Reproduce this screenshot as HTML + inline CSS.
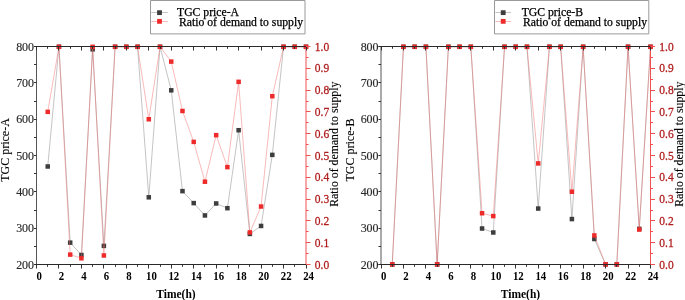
<!DOCTYPE html>
<html><head><meta charset="utf-8"><title>TGC price chart</title><style>
html,body{margin:0;padding:0;background:#fff;overflow:hidden}
svg{display:block;will-change:transform}
text{font-family:"Liberation Serif",serif}
.lt{font-size:12px;fill:#2a2a2a;stroke:#2a2a2a;stroke-width:0.15px;text-anchor:end}
.rt{font-size:11.5px;fill:#b01c1c;stroke:#b01c1c;stroke-width:0.25px;text-anchor:start}
.bt{font-size:12px;font-weight:bold;fill:#000;text-anchor:middle}
.ti{font-size:11.5px;fill:#000;stroke:#000;stroke-width:0.12px;text-anchor:middle}
.xt{font-size:11.5px;font-weight:bold;fill:#000;text-anchor:middle}
.lg{font-size:11.7px;fill:#000;stroke:#000;stroke-width:0.25px}
</style></head>
<body><svg width="685" height="300" viewBox="0 0 685 300">
<rect x="0" y="0" width="685" height="300" fill="#fff"/>
<polyline points="47.73,166.48 58.96,46.8 70.19,242.64 81.42,254.97 92.65,49.34 103.88,245.9 115.1,46.8 126.33,46.8 137.56,46.8 148.79,197.31 160.02,46.8 171.25,90.32 182.48,191.14 193.71,203.11 204.94,215.44 216.17,203.47 227.4,208.19 238.62,130.21 249.85,233.94 261.08,225.96 272.31,154.87 283.54,46.8 294.77,46.8 306,46.8" fill="none" stroke="#7a7a7a" stroke-width="0.45"/>
<g fill="#3d3d3d"><rect x="45.48" y="164.23" width="4.5" height="4.5"/><rect x="56.71" y="44.55" width="4.5" height="4.5"/><rect x="67.94" y="240.39" width="4.5" height="4.5"/><rect x="79.17" y="252.72" width="4.5" height="4.5"/><rect x="90.4" y="47.09" width="4.5" height="4.5"/><rect x="101.62" y="243.65" width="4.5" height="4.5"/><rect x="112.85" y="44.55" width="4.5" height="4.5"/><rect x="124.08" y="44.55" width="4.5" height="4.5"/><rect x="135.31" y="44.55" width="4.5" height="4.5"/><rect x="146.54" y="195.06" width="4.5" height="4.5"/><rect x="157.77" y="44.55" width="4.5" height="4.5"/><rect x="169" y="88.07" width="4.5" height="4.5"/><rect x="180.23" y="188.89" width="4.5" height="4.5"/><rect x="191.46" y="200.86" width="4.5" height="4.5"/><rect x="202.69" y="213.19" width="4.5" height="4.5"/><rect x="213.92" y="201.22" width="4.5" height="4.5"/><rect x="225.15" y="205.94" width="4.5" height="4.5"/><rect x="236.38" y="127.96" width="4.5" height="4.5"/><rect x="247.6" y="231.69" width="4.5" height="4.5"/><rect x="258.83" y="223.71" width="4.5" height="4.5"/><rect x="270.06" y="152.62" width="4.5" height="4.5"/><rect x="281.29" y="44.55" width="4.5" height="4.5"/><rect x="292.52" y="44.55" width="4.5" height="4.5"/><rect x="303.75" y="44.55" width="4.5" height="4.5"/></g>
<polyline points="47.73,111.86 58.96,46.8 70.19,254.61 81.42,258.31 92.65,46.8 103.88,255.48 115.1,46.8 126.33,46.8 137.56,46.8 148.79,119.26 160.02,46.8 171.25,61.6 182.48,110.99 193.71,141.89 204.94,181.71 216.17,135.15 227.4,167.13 238.62,81.83 249.85,232.41 261.08,206.52 272.31,96.2 283.54,46.8 294.77,46.8 306,46.8" fill="none" stroke="#f26464" stroke-width="0.45"/>
<g fill="#ee2b2b"><rect x="45.48" y="109.61" width="4.5" height="4.5"/><rect x="56.71" y="44.55" width="4.5" height="4.5"/><rect x="67.94" y="252.36" width="4.5" height="4.5"/><rect x="79.17" y="256.06" width="4.5" height="4.5"/><rect x="90.4" y="44.55" width="4.5" height="4.5"/><rect x="101.62" y="253.23" width="4.5" height="4.5"/><rect x="112.85" y="44.55" width="4.5" height="4.5"/><rect x="124.08" y="44.55" width="4.5" height="4.5"/><rect x="135.31" y="44.55" width="4.5" height="4.5"/><rect x="146.54" y="117.01" width="4.5" height="4.5"/><rect x="157.77" y="44.55" width="4.5" height="4.5"/><rect x="169" y="59.35" width="4.5" height="4.5"/><rect x="180.23" y="108.74" width="4.5" height="4.5"/><rect x="191.46" y="139.64" width="4.5" height="4.5"/><rect x="202.69" y="179.46" width="4.5" height="4.5"/><rect x="213.92" y="132.9" width="4.5" height="4.5"/><rect x="225.15" y="164.88" width="4.5" height="4.5"/><rect x="236.38" y="79.58" width="4.5" height="4.5"/><rect x="247.6" y="230.16" width="4.5" height="4.5"/><rect x="258.83" y="204.27" width="4.5" height="4.5"/><rect x="270.06" y="93.95" width="4.5" height="4.5"/><rect x="281.29" y="44.55" width="4.5" height="4.5"/><rect x="292.52" y="44.55" width="4.5" height="4.5"/><rect x="303.75" y="44.55" width="4.5" height="4.5"/></g>
<line x1="36.5" y1="46.5" x2="36.5" y2="264.5" stroke="#555" stroke-width="1"/>
<line x1="306.0" y1="46.0" x2="306.0" y2="265.0" stroke="#f05050" stroke-width="1"/>
<path d="M36.5 264.5v4M36.5 46.5v4M47.5 264.5v2.3M47.5 46.5v2.3M58.5 264.5v4M58.5 46.5v4M70.5 264.5v2.3M70.5 46.5v2.3M81.5 264.5v4M81.5 46.5v4M92.5 264.5v2.3M92.5 46.5v2.3M103.5 264.5v4M103.5 46.5v4M115.5 264.5v2.3M115.5 46.5v2.3M126.5 264.5v4M126.5 46.5v4M137.5 264.5v2.3M137.5 46.5v2.3M148.5 264.5v4M148.5 46.5v4M160.5 264.5v2.3M160.5 46.5v2.3M171.5 264.5v4M171.5 46.5v4M182.5 264.5v2.3M182.5 46.5v2.3M193.5 264.5v4M193.5 46.5v4M204.5 264.5v2.3M204.5 46.5v2.3M216.5 264.5v4M216.5 46.5v4M227.5 264.5v2.3M227.5 46.5v2.3M238.5 264.5v4M238.5 46.5v4M249.5 264.5v2.3M249.5 46.5v2.3M261.5 264.5v4M261.5 46.5v4M272.5 264.5v2.3M272.5 46.5v2.3M283.5 264.5v4M283.5 46.5v4M294.5 264.5v2.3M294.5 46.5v2.3M306.5 264.5v4M306.5 46.5v4M36.5 264.5h-2.5M36.5 246.5h-2.5M36.5 228.5h-2.5M36.5 210.5h-2.5M36.5 191.5h-2.5M36.5 173.5h-2.5M36.5 155.5h-2.5M36.5 137.5h-2.5M36.5 119.5h-2.5M36.5 101.5h-2.5M36.5 82.5h-2.5M36.5 64.5h-2.5M36.5 46.5h-2.5" stroke="#333" stroke-width="1" fill="none"/>
<line x1="34.0" y1="46.5" x2="306.0" y2="46.5" stroke="#2a2a2a" stroke-width="1"/>
<line x1="34.0" y1="264.5" x2="306.0" y2="264.5" stroke="#2a2a2a" stroke-width="1"/>
<path d="M306.0 264.5h4.5M306.0 253.5h2.5M306.0 242.5h4.5M306.0 231.5h2.5M306.0 220.5h4.5M306.0 210.5h2.5M306.0 199.5h4.5M306.0 188.5h2.5M306.0 177.5h4.5M306.0 166.5h2.5M306.0 155.5h4.5M306.0 144.5h2.5M306.0 133.5h4.5M306.0 122.5h2.5M306.0 111.5h4.5M306.0 101.5h2.5M306.0 90.5h4.5M306.0 79.5h2.5M306.0 68.5h4.5M306.0 57.5h2.5M306.0 46.5h4.5" stroke="#f05050" stroke-width="1" fill="none"/>
<text transform="translate(34.1,268.6) scale(1,1.07)" class="lt">200</text>
<text transform="translate(34.1,232.27) scale(1,1.07)" class="lt">300</text>
<text transform="translate(34.1,195.93) scale(1,1.07)" class="lt">400</text>
<text transform="translate(34.1,159.6) scale(1,1.07)" class="lt">500</text>
<text transform="translate(34.1,123.27) scale(1,1.07)" class="lt">600</text>
<text transform="translate(34.1,86.93) scale(1,1.07)" class="lt">700</text>
<text transform="translate(34.1,50.6) scale(1,1.07)" class="lt">800</text>
<text transform="translate(314.8,268.5) scale(1,1.15)" class="rt">0.0</text>
<text transform="translate(314.8,246.7) scale(1,1.15)" class="rt">0.1</text>
<text transform="translate(314.8,224.9) scale(1,1.15)" class="rt">0.2</text>
<text transform="translate(314.8,203.1) scale(1,1.15)" class="rt">0.3</text>
<text transform="translate(314.8,181.3) scale(1,1.15)" class="rt">0.4</text>
<text transform="translate(314.8,159.5) scale(1,1.15)" class="rt">0.5</text>
<text transform="translate(314.8,137.7) scale(1,1.15)" class="rt">0.6</text>
<text transform="translate(314.8,115.9) scale(1,1.15)" class="rt">0.7</text>
<text transform="translate(314.8,94.1) scale(1,1.15)" class="rt">0.8</text>
<text transform="translate(314.8,72.3) scale(1,1.15)" class="rt">0.9</text>
<text transform="translate(314.8,50.5) scale(1,1.15)" class="rt">1.0</text>
<text transform="translate(39.1,279.9) scale(0.9,1)" class="bt">0</text>
<text transform="translate(61.56,279.9) scale(0.9,1)" class="bt">2</text>
<text transform="translate(84.02,279.9) scale(0.9,1)" class="bt">4</text>
<text transform="translate(106.47,279.9) scale(0.9,1)" class="bt">6</text>
<text transform="translate(128.93,279.9) scale(0.9,1)" class="bt">8</text>
<text transform="translate(151.39,279.9) scale(0.9,1)" class="bt">10</text>
<text transform="translate(173.85,279.9) scale(0.9,1)" class="bt">12</text>
<text transform="translate(196.31,279.9) scale(0.9,1)" class="bt">14</text>
<text transform="translate(218.77,279.9) scale(0.9,1)" class="bt">16</text>
<text transform="translate(241.22,279.9) scale(0.9,1)" class="bt">18</text>
<text transform="translate(263.68,279.9) scale(0.9,1)" class="bt">20</text>
<text transform="translate(286.14,279.9) scale(0.9,1)" class="bt">22</text>
<text transform="translate(308.6,279.9) scale(0.9,1)" class="bt">24</text>
<text transform="translate(9,150) rotate(-90)" class="ti" style="font-size:12px">TGC price-A</text>
<text transform="translate(338.4,144.2) rotate(-90)" class="ti" style="font-size:11.8px">Ratio of demand to supply</text>
<text x="175.95" y="297.6" class="xt">Time(h)</text>
<path d="M150.5 0.5H305.0M150.5 0.5V33.9M150.5 33.9H305.0M305.0 0.5V33.9" fill="none" stroke="#999" stroke-width="1"/>
<line x1="151.3" y1="12.5" x2="167.7" y2="12.5" stroke="#7a7a7a" stroke-width="0.45"/>
<rect x="157.1" y="10.25" width="4.8" height="4.8" fill="#3d3d3d"/>
<line x1="151.3" y1="21.5" x2="167.7" y2="21.5" stroke="#f26464" stroke-width="0.45"/>
<rect x="157.1" y="18.95" width="4.8" height="4.8" fill="#ee2b2b"/>
<text x="177" y="16.4" class="lg">TGC price-A</text>
<text x="179" y="25.7" class="lg">Ratio of demand to supply</text>
<polyline points="392.23,264.4 403.46,46.8 414.69,46.8 425.92,46.8 437.15,264.4 448.38,46.8 459.6,46.8 470.83,46.8 482.06,228.5 493.29,232.49 504.52,46.8 515.75,46.8 526.98,46.8 538.21,208.55 549.44,46.8 560.67,46.8 571.9,219.07 583.12,46.8 594.35,239.01 605.58,264.4 616.81,264.4 628.04,46.8 639.27,228.86 650.5,46.8" fill="none" stroke="#7a7a7a" stroke-width="0.45"/>
<g fill="#3d3d3d"><rect x="389.98" y="262.15" width="4.5" height="4.5"/><rect x="401.21" y="44.55" width="4.5" height="4.5"/><rect x="412.44" y="44.55" width="4.5" height="4.5"/><rect x="423.67" y="44.55" width="4.5" height="4.5"/><rect x="434.9" y="262.15" width="4.5" height="4.5"/><rect x="446.12" y="44.55" width="4.5" height="4.5"/><rect x="457.35" y="44.55" width="4.5" height="4.5"/><rect x="468.58" y="44.55" width="4.5" height="4.5"/><rect x="479.81" y="226.25" width="4.5" height="4.5"/><rect x="491.04" y="230.24" width="4.5" height="4.5"/><rect x="502.27" y="44.55" width="4.5" height="4.5"/><rect x="513.5" y="44.55" width="4.5" height="4.5"/><rect x="524.73" y="44.55" width="4.5" height="4.5"/><rect x="535.96" y="206.3" width="4.5" height="4.5"/><rect x="547.19" y="44.55" width="4.5" height="4.5"/><rect x="558.42" y="44.55" width="4.5" height="4.5"/><rect x="569.65" y="216.82" width="4.5" height="4.5"/><rect x="580.88" y="44.55" width="4.5" height="4.5"/><rect x="592.1" y="236.76" width="4.5" height="4.5"/><rect x="603.33" y="262.15" width="4.5" height="4.5"/><rect x="614.56" y="262.15" width="4.5" height="4.5"/><rect x="625.79" y="44.55" width="4.5" height="4.5"/><rect x="637.02" y="226.61" width="4.5" height="4.5"/><rect x="648.25" y="44.55" width="4.5" height="4.5"/></g>
<polyline points="392.23,264.4 403.46,46.8 414.69,46.8 425.92,46.8 437.15,264.4 448.38,46.8 459.6,46.8 470.83,46.8 482.06,213.26 493.29,216.09 504.52,46.8 515.75,46.8 526.98,46.8 538.21,163.43 549.44,46.8 560.67,46.8 571.9,191.72 583.12,46.8 594.35,235.46 605.58,264.4 616.81,264.4 628.04,46.8 639.27,229.58 650.5,46.8" fill="none" stroke="#f26464" stroke-width="0.45"/>
<g fill="#ee2b2b"><rect x="389.98" y="262.15" width="4.5" height="4.5"/><rect x="401.21" y="44.55" width="4.5" height="4.5"/><rect x="412.44" y="44.55" width="4.5" height="4.5"/><rect x="423.67" y="44.55" width="4.5" height="4.5"/><rect x="434.9" y="262.15" width="4.5" height="4.5"/><rect x="446.12" y="44.55" width="4.5" height="4.5"/><rect x="457.35" y="44.55" width="4.5" height="4.5"/><rect x="468.58" y="44.55" width="4.5" height="4.5"/><rect x="479.81" y="211.01" width="4.5" height="4.5"/><rect x="491.04" y="213.84" width="4.5" height="4.5"/><rect x="502.27" y="44.55" width="4.5" height="4.5"/><rect x="513.5" y="44.55" width="4.5" height="4.5"/><rect x="524.73" y="44.55" width="4.5" height="4.5"/><rect x="535.96" y="161.18" width="4.5" height="4.5"/><rect x="547.19" y="44.55" width="4.5" height="4.5"/><rect x="558.42" y="44.55" width="4.5" height="4.5"/><rect x="569.65" y="189.47" width="4.5" height="4.5"/><rect x="580.88" y="44.55" width="4.5" height="4.5"/><rect x="592.1" y="233.21" width="4.5" height="4.5"/><rect x="603.33" y="262.15" width="4.5" height="4.5"/><rect x="614.56" y="262.15" width="4.5" height="4.5"/><rect x="625.79" y="44.55" width="4.5" height="4.5"/><rect x="637.02" y="227.33" width="4.5" height="4.5"/><rect x="648.25" y="44.55" width="4.5" height="4.5"/></g>
<line x1="381.0" y1="46.5" x2="381.0" y2="264.5" stroke="#555" stroke-width="1"/>
<line x1="650.5" y1="46.0" x2="650.5" y2="265.0" stroke="#f05050" stroke-width="1"/>
<path d="M381.5 264.5v4M381.5 46.5v4M392.5 264.5v2.3M392.5 46.5v2.3M403.5 264.5v4M403.5 46.5v4M414.5 264.5v2.3M414.5 46.5v2.3M425.5 264.5v4M425.5 46.5v4M437.5 264.5v2.3M437.5 46.5v2.3M448.5 264.5v4M448.5 46.5v4M459.5 264.5v2.3M459.5 46.5v2.3M470.5 264.5v4M470.5 46.5v4M482.5 264.5v2.3M482.5 46.5v2.3M493.5 264.5v4M493.5 46.5v4M504.5 264.5v2.3M504.5 46.5v2.3M515.5 264.5v4M515.5 46.5v4M526.5 264.5v2.3M526.5 46.5v2.3M538.5 264.5v4M538.5 46.5v4M549.5 264.5v2.3M549.5 46.5v2.3M560.5 264.5v4M560.5 46.5v4M571.5 264.5v2.3M571.5 46.5v2.3M583.5 264.5v4M583.5 46.5v4M594.5 264.5v2.3M594.5 46.5v2.3M605.5 264.5v4M605.5 46.5v4M616.5 264.5v2.3M616.5 46.5v2.3M628.5 264.5v4M628.5 46.5v4M639.5 264.5v2.3M639.5 46.5v2.3M650.5 264.5v4M650.5 46.5v4M381.0 264.5h-2.5M381.0 246.5h-2.5M381.0 228.5h-2.5M381.0 210.5h-2.5M381.0 191.5h-2.5M381.0 173.5h-2.5M381.0 155.5h-2.5M381.0 137.5h-2.5M381.0 119.5h-2.5M381.0 101.5h-2.5M381.0 82.5h-2.5M381.0 64.5h-2.5M381.0 46.5h-2.5" stroke="#333" stroke-width="1" fill="none"/>
<line x1="378.5" y1="46.5" x2="650.5" y2="46.5" stroke="#2a2a2a" stroke-width="1"/>
<line x1="378.5" y1="264.5" x2="650.5" y2="264.5" stroke="#2a2a2a" stroke-width="1"/>
<path d="M650.5 264.5h4.5M650.5 253.5h2.5M650.5 242.5h4.5M650.5 231.5h2.5M650.5 220.5h4.5M650.5 210.5h2.5M650.5 199.5h4.5M650.5 188.5h2.5M650.5 177.5h4.5M650.5 166.5h2.5M650.5 155.5h4.5M650.5 144.5h2.5M650.5 133.5h4.5M650.5 122.5h2.5M650.5 111.5h4.5M650.5 101.5h2.5M650.5 90.5h4.5M650.5 79.5h2.5M650.5 68.5h4.5M650.5 57.5h2.5M650.5 46.5h4.5" stroke="#f05050" stroke-width="1" fill="none"/>
<text transform="translate(378.6,268.6) scale(1,1.07)" class="lt">200</text>
<text transform="translate(378.6,232.27) scale(1,1.07)" class="lt">300</text>
<text transform="translate(378.6,195.93) scale(1,1.07)" class="lt">400</text>
<text transform="translate(378.6,159.6) scale(1,1.07)" class="lt">500</text>
<text transform="translate(378.6,123.27) scale(1,1.07)" class="lt">600</text>
<text transform="translate(378.6,86.93) scale(1,1.07)" class="lt">700</text>
<text transform="translate(378.6,50.6) scale(1,1.07)" class="lt">800</text>
<text transform="translate(659.3,268.5) scale(1,1.15)" class="rt">0.0</text>
<text transform="translate(659.3,246.7) scale(1,1.15)" class="rt">0.1</text>
<text transform="translate(659.3,224.9) scale(1,1.15)" class="rt">0.2</text>
<text transform="translate(659.3,203.1) scale(1,1.15)" class="rt">0.3</text>
<text transform="translate(659.3,181.3) scale(1,1.15)" class="rt">0.4</text>
<text transform="translate(659.3,159.5) scale(1,1.15)" class="rt">0.5</text>
<text transform="translate(659.3,137.7) scale(1,1.15)" class="rt">0.6</text>
<text transform="translate(659.3,115.9) scale(1,1.15)" class="rt">0.7</text>
<text transform="translate(659.3,94.1) scale(1,1.15)" class="rt">0.8</text>
<text transform="translate(659.3,72.3) scale(1,1.15)" class="rt">0.9</text>
<text transform="translate(659.3,50.5) scale(1,1.15)" class="rt">1.0</text>
<text transform="translate(383.6,279.9) scale(0.9,1)" class="bt">0</text>
<text transform="translate(406.06,279.9) scale(0.9,1)" class="bt">2</text>
<text transform="translate(428.52,279.9) scale(0.9,1)" class="bt">4</text>
<text transform="translate(450.98,279.9) scale(0.9,1)" class="bt">6</text>
<text transform="translate(473.43,279.9) scale(0.9,1)" class="bt">8</text>
<text transform="translate(495.89,279.9) scale(0.9,1)" class="bt">10</text>
<text transform="translate(518.35,279.9) scale(0.9,1)" class="bt">12</text>
<text transform="translate(540.81,279.9) scale(0.9,1)" class="bt">14</text>
<text transform="translate(563.27,279.9) scale(0.9,1)" class="bt">16</text>
<text transform="translate(585.73,279.9) scale(0.9,1)" class="bt">18</text>
<text transform="translate(608.18,279.9) scale(0.9,1)" class="bt">20</text>
<text transform="translate(630.64,279.9) scale(0.9,1)" class="bt">22</text>
<text transform="translate(653.1,279.9) scale(0.9,1)" class="bt">24</text>
<text transform="translate(353.5,150) rotate(-90)" class="ti" style="font-size:12px">TGC price-B</text>
<text transform="translate(682.9,144.2) rotate(-90)" class="ti" style="font-size:11.8px">Ratio of demand to supply</text>
<text x="520.45" y="297.6" class="xt">Time(h)</text>
<path d="M494.5 0.5H648.8M494.5 0.5V33.9M494.5 33.9H648.8M648.8 0.5V33.9" fill="none" stroke="#999" stroke-width="1"/>
<line x1="495.4" y1="12.5" x2="511.0" y2="12.5" stroke="#7a7a7a" stroke-width="0.45"/>
<rect x="500.8" y="10.25" width="4.8" height="4.8" fill="#3d3d3d"/>
<line x1="495.4" y1="21.5" x2="511.0" y2="21.5" stroke="#f26464" stroke-width="0.45"/>
<rect x="500.8" y="18.95" width="4.8" height="4.8" fill="#ee2b2b"/>
<text x="521.7" y="16.4" class="lg">TGC price-B</text>
<text x="523" y="25.7" class="lg">Ratio of demand to supply</text>
</svg></body></html>
